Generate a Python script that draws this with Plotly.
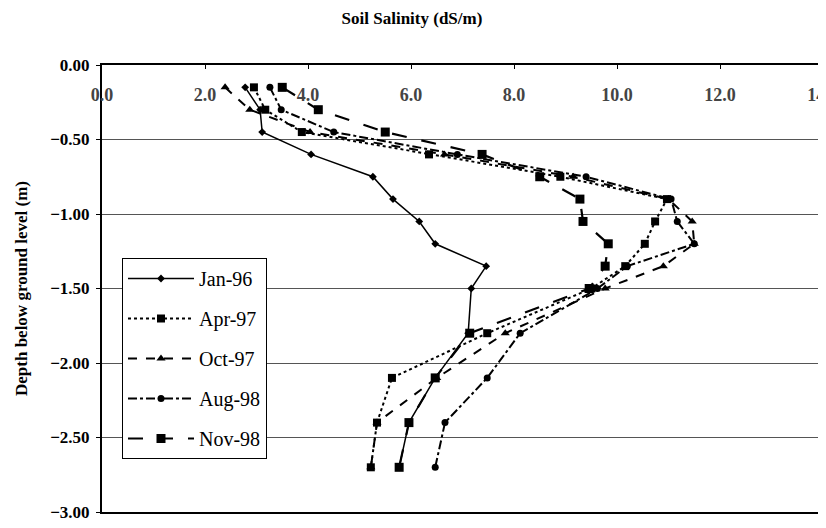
import plotly.graph_objects as go

depth = [-0.15, -0.30, -0.45, -0.60, -0.75, -0.90, -1.05, -1.20, -1.35, -1.50, -1.80, -2.10, -2.40, -2.70]

jan96 = [2.78, 3.07, 3.11, 4.06, 5.26, 5.65, 6.16, 6.47, 7.46, 7.17, 7.11, 6.47, 5.96, 5.77]
apr97 = [2.95, 3.17, 3.88, 6.35, 8.90, 10.97, 10.74, 10.54, 10.16, 9.50, 7.48, 5.63, 5.34, 5.22]
oct97 = [2.39, 2.87, 4.04, 6.65, 9.15, 11.00, 11.46, 11.50, 10.90, 9.77, 7.83, 6.50, 5.34, 5.22]
aug98 = [3.26, 3.48, 4.50, 6.90, 9.40, 11.05, 11.17, 11.50, 10.20, 9.62, 8.12, 7.48, 6.66, 6.47]
nov98 = [3.50, 4.20, 5.50, 7.38, 8.50, 9.28, 9.34, 9.83, 9.77, 9.46, 7.14, 6.47, 5.96, 5.77]

series_names = ["Jan-96", "Apr-97", "Oct-97", "Aug-98", "Nov-98"]
series_vals = [jan96, apr97, oct97, aug98, nov98]

x_ticks = [0, 2, 4, 6, 8, 10, 12, 14]
y_ticks = [0, -0.5, -1.0, -1.5, -2.0, -2.5, -3.0]

styles = [
    dict(dash="solid", width=1.5, symbol="diamond", size=6),
    dict(dash="dot", width=2, symbol="square", size=8),
    dict(dash="dash", width=2, symbol="triangle-up", size=8),
    dict(dash="dashdot", width=2, symbol="circle", size=7),
    dict(dash="longdash", width=2.2, symbol="square", size=9),
]

FONT = "Liberation Serif"

fig = go.Figure()
for name, vals, st in zip(series_names, series_vals, styles):
    fig.add_trace(go.Scatter(
        x=vals, y=depth, name=name, mode="lines+markers",
        legendgroup=name,
        line=dict(color="black", width=st["width"], dash=st["dash"]),
        marker=dict(color="black", symbol=st["symbol"], size=st["size"]),
    ))

# page body has an 8px margin; figure is sized to fit the 826x528 window
W, H = 818, 520
PL, PT, PB, PR = 94, 57, 504, 815   # plot area in figure pixels

fig.update_layout(
    width=W, height=H,
    margin=dict(l=PL, r=W - PR, t=PT, b=H - PB, autoexpand=False),
    paper_bgcolor="white", plot_bgcolor="white",
    font=dict(family=FONT, color="black"),
    title=dict(text="Soil Salinity (dS/m)", font=dict(family=FONT, size=17, weight="bold"),
               x=404 / W, xref="container", y=1 - 10 / H, yref="container",
               xanchor="center", yanchor="middle"),
    showlegend=True,
    legend=dict(x=(114 - PL) / (PR - PL), y=1 - (250 - PT) / (PB - PT),
                xanchor="left", yanchor="top",
                bgcolor="white", bordercolor="black", borderwidth=1,
                font=dict(family=FONT, size=20), tracegroupgap=11,
                itemwidth=66),
    xaxis=dict(side="top", range=[0, 14], tickvals=x_ticks, tickformat=".1f",
               automargin=False,
               ticks="inside", ticklen=4, tickcolor="black",
               ticklabelposition="inside", ticklabeloverflow="allow",
               ticklabelstandoff=20,
               tickfont=dict(family=FONT, size=18, weight="bold"),
               showline=True, linecolor="black", linewidth=2, mirror=True,
               showgrid=False, zeroline=False),
    yaxis=dict(range=[-3, 0], tickvals=y_ticks, tickformat=".2f",
               automargin=False,
               ticks="outside", ticklen=4, tickcolor="black",
               ticklabelstandoff=3,
               tickfont=dict(family=FONT, size=17, weight="bold"),
               showline=True, linecolor="black", linewidth=2,
               showgrid=True, gridcolor="#555", gridwidth=1, zeroline=False,
               title=dict(text="Depth below ground level (m)",
                          font=dict(family=FONT, size=17, weight="bold"), standoff=18)),
)

fig.write_html("out.html")
